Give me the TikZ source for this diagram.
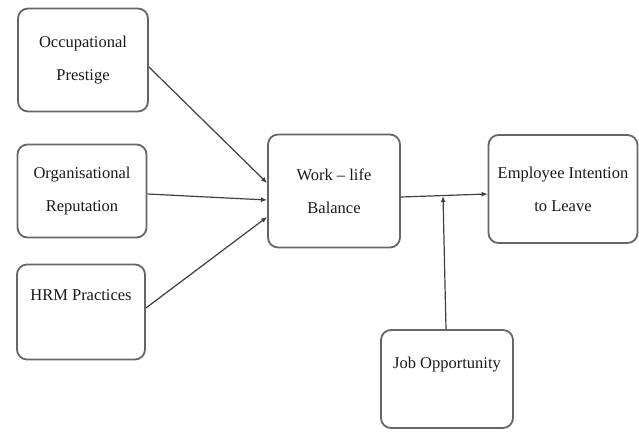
\documentclass[tikz,border=0pt]{standalone}
\usepackage{fontspec}
\setmainfont{Liberation Serif}
\usetikzlibrary{arrows.meta,positioning}
\begin{document}
\begin{tikzpicture}[x=1pt,y=-1pt]
      \tikzset{box/.style = {align=center, draw=black!60, line width=1.8pt, rounded corners=10pt,
                    inner sep=0pt, text=black!90, font=\fontsize{16.5}{33}\selectfont},
               link/.style = {draw=black!75, line width=1.2pt, -{Latex[length=6pt,width=5pt]}}}
      \useasboundingbox (0,0) rectangle (639,431);

      \node[box, minimum width=130, minimum height=103](op) at (83,60){Occupational\\Prestige};
      \node[box, minimum width=129, minimum height=93](orep) at (82,191){Organisational\\Reputation};
      \node[box, minimum width=128, minimum height=95](hrm) at (81,312){HRM Practices\\~};
      \node[box, minimum width=132, minimum height=113](wlb) at (334,191){Work -- life\\Balance};
      \node[box, minimum width=149, minimum height=108](eil) at (563,189){Employee Intention\\to Leave};
      \node[box, minimum width=132, minimum height=98](job) at (447,379){Job Opportunity\\~};
      \coordinate (m) at (443,196);

      \draw[link] ([yshift=-7pt]op.east) -- ([yshift=8pt]wlb.west);
      \draw[link] ([yshift=-3pt]orep.east) -- ([yshift=-9pt]wlb.west);
      \draw[link] ([yshift=4pt]hrm.east) -- ([yshift=-26pt]wlb.west);

      \draw[link] ([yshift=-6pt]wlb.east) -- ([yshift=-5pt]eil.west);
      \draw[link] ([xshift=-1pt]job.north) -- (m);
\end{tikzpicture}
\end{document}
